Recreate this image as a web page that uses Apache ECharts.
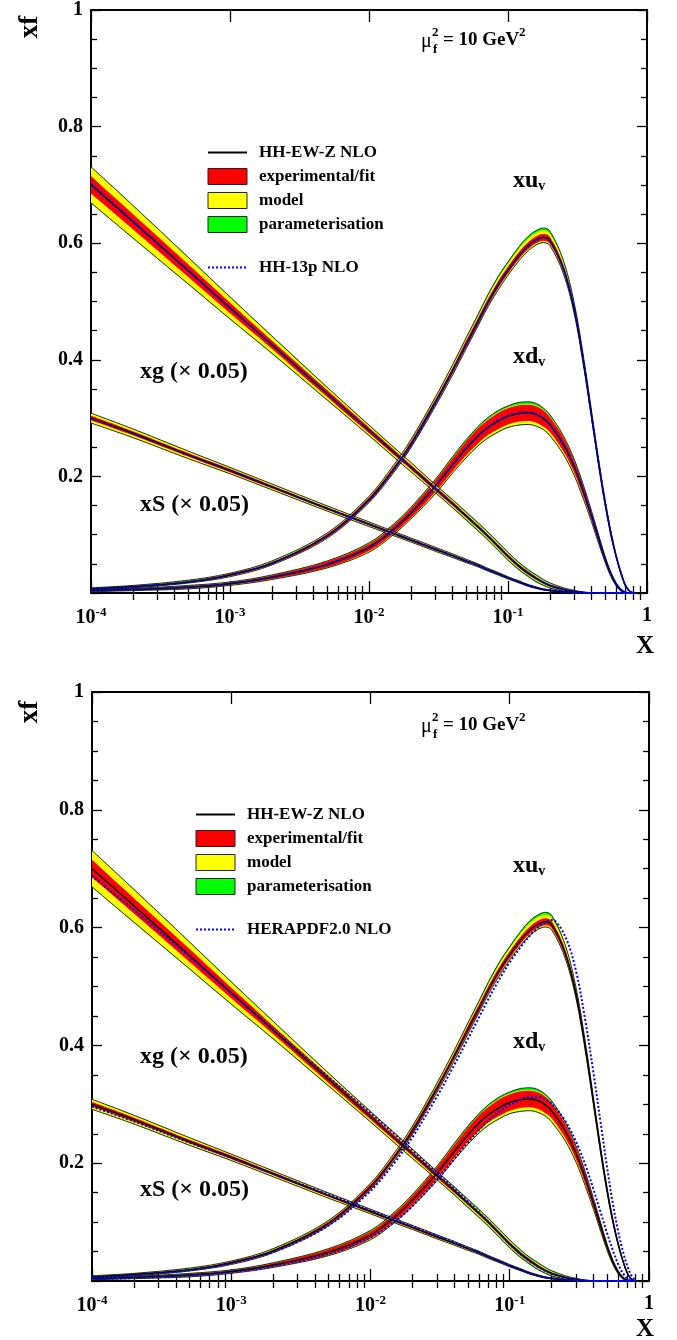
<!DOCTYPE html>
<html><head><meta charset="utf-8">
<script src="https://cdn.jsdelivr.net/npm/echarts@6/dist/echarts.min.js"></script>
<style>html,body{margin:0;padding:0;background:#fff}#c{width:677px;height:1340px}</style>
</head><body><div id="c"></div>
<script>
// ---------------- data ----------------
const xGrid = [0.0001, 0.0002, 0.0005, 0.001, 0.002, 0.005, 0.01, 0.015, 0.02, 0.03, 0.04, 0.05, 0.06, 0.07, 0.085, 0.1, 0.12, 0.14, 0.16, 0.18, 0.2, 0.25, 0.3, 0.35, 0.4, 0.45, 0.5, 0.55, 0.6, 0.65, 0.7, 0.75, 0.8];

// xu_v : HH-EW-Z NLO central value and band half-widths
const uvC   = [0.007, 0.011, 0.019, 0.031, 0.051, 0.098, 0.160, 0.212, 0.255, 0.327, 0.382, 0.427, 0.463, 0.494, 0.529, 0.554, 0.579, 0.596, 0.606, 0.610, 0.605, 0.557, 0.486, 0.395, 0.303, 0.221, 0.154, 0.102, 0.063, 0.034, 0.013, 0.003, 0.000];
const uvE   = [0.001, 0.001, 0.001, 0.002, 0.002, 0.003, 0.004, 0.004, 0.005, 0.005, 0.005, 0.006, 0.006, 0.006, 0.006, 0.006, 0.006, 0.006, 0.006, 0.006, 0.006, 0.006, 0.006, 0.005, 0.005, 0.004, 0.003, 0.003, 0.002, 0.001, 0.001, 0.000, 0.000];
const uvMdn = [0.001, 0.002, 0.002, 0.003, 0.003, 0.004, 0.005, 0.005, 0.006, 0.006, 0.007, 0.007, 0.007, 0.007, 0.008, 0.008, 0.008, 0.008, 0.008, 0.008, 0.008, 0.008, 0.007, 0.006, 0.006, 0.005, 0.004, 0.003, 0.002, 0.001, 0.001, 0.000, 0.000];
const uvMup = [0.001, 0.002, 0.002, 0.003, 0.003, 0.004, 0.005, 0.006, 0.006, 0.007, 0.008, 0.009, 0.009, 0.010, 0.011, 0.011, 0.012, 0.012, 0.012, 0.012, 0.012, 0.011, 0.009, 0.007, 0.006, 0.005, 0.004, 0.003, 0.002, 0.001, 0.001, 0.000, 0.000];
const uvPdn = [0.001, 0.002, 0.002, 0.003, 0.003, 0.004, 0.005, 0.006, 0.006, 0.007, 0.008, 0.008, 0.008, 0.008, 0.009, 0.009, 0.009, 0.009, 0.009, 0.009, 0.009, 0.009, 0.008, 0.007, 0.006, 0.005, 0.004, 0.003, 0.002, 0.001, 0.001, 0.000, 0.000];
const uvPup = [0.002, 0.002, 0.003, 0.003, 0.004, 0.005, 0.006, 0.007, 0.008, 0.009, 0.010, 0.011, 0.012, 0.013, 0.014, 0.014, 0.015, 0.016, 0.016, 0.016, 0.016, 0.014, 0.011, 0.009, 0.007, 0.006, 0.005, 0.003, 0.002, 0.001, 0.001, 0.000, 0.000];

// xd_v
const dvC   = [0.004, 0.006, 0.010, 0.016, 0.027, 0.049, 0.078, 0.109, 0.137, 0.183, 0.220, 0.248, 0.268, 0.282, 0.295, 0.303, 0.308, 0.309, 0.306, 0.299, 0.289, 0.255, 0.216, 0.173, 0.131, 0.092, 0.058, 0.032, 0.015, 0.005, 0.001, 0.000, 0.000];
const dvE   = [0.001, 0.001, 0.002, 0.002, 0.003, 0.005, 0.006, 0.007, 0.008, 0.010, 0.011, 0.012, 0.013, 0.013, 0.014, 0.014, 0.014, 0.014, 0.014, 0.014, 0.013, 0.012, 0.010, 0.009, 0.007, 0.006, 0.004, 0.003, 0.002, 0.001, 0.001, 0.000, 0.000];
const dvMdn = [0.001, 0.002, 0.002, 0.003, 0.004, 0.006, 0.008, 0.009, 0.010, 0.012, 0.014, 0.015, 0.016, 0.017, 0.018, 0.018, 0.019, 0.019, 0.019, 0.018, 0.018, 0.016, 0.014, 0.012, 0.010, 0.008, 0.006, 0.004, 0.003, 0.002, 0.001, 0.000, 0.000];
const dvMup = [0.001, 0.001, 0.002, 0.002, 0.003, 0.005, 0.006, 0.007, 0.008, 0.010, 0.011, 0.012, 0.013, 0.014, 0.015, 0.015, 0.015, 0.015, 0.015, 0.015, 0.014, 0.013, 0.011, 0.009, 0.008, 0.006, 0.005, 0.003, 0.002, 0.001, 0.001, 0.000, 0.000];
const dvPdn = [0.002, 0.002, 0.003, 0.003, 0.004, 0.006, 0.008, 0.009, 0.010, 0.013, 0.014, 0.016, 0.017, 0.018, 0.019, 0.019, 0.020, 0.020, 0.020, 0.019, 0.019, 0.017, 0.015, 0.013, 0.010, 0.008, 0.006, 0.004, 0.003, 0.002, 0.001, 0.000, 0.000];
const dvPup = [0.002, 0.002, 0.003, 0.003, 0.004, 0.006, 0.008, 0.009, 0.010, 0.012, 0.014, 0.015, 0.016, 0.017, 0.018, 0.018, 0.019, 0.019, 0.019, 0.018, 0.017, 0.015, 0.013, 0.011, 0.009, 0.007, 0.005, 0.004, 0.003, 0.002, 0.001, 0.000, 0.000];

// xg (x 0.05)
const gC = [0.700, 0.637, 0.553, 0.489, 0.426, 0.342, 0.279, 0.242, 0.216, 0.179, 0.153, 0.132, 0.115, 0.100, 0.080, 0.063, 0.046, 0.034, 0.025, 0.018, 0.013, 0.006, 0.0025, 0.0008, 0, 0, 0, 0, 0, 0, 0, 0, 0];
const gE = [0.015, 0.013, 0.011, 0.009, 0.007, 0.006, 0.005, 0.0045, 0.004, 0.004, 0.0035, 0.003, 0.003, 0.003, 0.003, 0.003, 0.003, 0.003, 0.0025, 0.002, 0.002, 0.0015, 0.001, 0.0005, 0, 0, 0, 0, 0, 0, 0, 0, 0];
const gM = [0.030, 0.027, 0.022, 0.018, 0.014, 0.010, 0.008, 0.0075, 0.007, 0.006, 0.0055, 0.005, 0.005, 0.005, 0.005, 0.005, 0.0045, 0.004, 0.004, 0.0035, 0.003, 0.002, 0.0015, 0.0007, 0, 0, 0, 0, 0, 0, 0, 0, 0];
const gP = [0.031, 0.028, 0.023, 0.019, 0.015, 0.011, 0.009, 0.0085, 0.008, 0.007, 0.007, 0.007, 0.007, 0.007, 0.007, 0.007, 0.0065, 0.006, 0.006, 0.005, 0.0045, 0.003, 0.002, 0.0008, 0, 0, 0, 0, 0, 0, 0, 0, 0];

// xS (x 0.05)
const sC = [0.300, 0.274, 0.237, 0.210, 0.182, 0.145, 0.118, 0.102, 0.091, 0.075, 0.064, 0.055, 0.048, 0.041, 0.033, 0.026, 0.019, 0.013, 0.009, 0.006, 0.0045, 0.0018, 0.0006, 0.0002, 0, 0, 0, 0, 0, 0, 0, 0, 0];
const sE = [0.004, 0.0035, 0.003, 0.003, 0.0025, 0.002, 0.002, 0.002, 0.002, 0.002, 0.0015, 0.0015, 0.0015, 0.0015, 0.0012, 0.001, 0.001, 0.001, 0.0008, 0.0007, 0.0006, 0.0004, 0.0002, 0.0001, 0, 0, 0, 0, 0, 0, 0, 0, 0];
const sM = [0.008, 0.007, 0.006, 0.005, 0.0045, 0.004, 0.0035, 0.0032, 0.003, 0.003, 0.0027, 0.0025, 0.0022, 0.002, 0.002, 0.0018, 0.0015, 0.0013, 0.0011, 0.0009, 0.0008, 0.0005, 0.0003, 0.0001, 0, 0, 0, 0, 0, 0, 0, 0, 0];
const sP = [0.0085, 0.0075, 0.0065, 0.0055, 0.005, 0.0045, 0.004, 0.0037, 0.0035, 0.0035, 0.0032, 0.003, 0.0027, 0.0025, 0.0023, 0.002, 0.0018, 0.0016, 0.0013, 0.0011, 0.0009, 0.0006, 0.0003, 0.0001, 0, 0, 0, 0, 0, 0, 0, 0, 0];

// comparison PDFs: HH-13p NLO (top panel)
const h13Uv = [0.007, 0.011, 0.019, 0.031, 0.051, 0.098, 0.159, 0.211, 0.254, 0.326, 0.381, 0.426, 0.462, 0.493, 0.528, 0.553, 0.578, 0.595, 0.605, 0.609, 0.604, 0.557, 0.487, 0.396, 0.304, 0.222, 0.155, 0.102, 0.063, 0.034, 0.013, 0.003, 0.000];
const h13Dv = [0.004, 0.006, 0.010, 0.016, 0.027, 0.049, 0.078, 0.109, 0.137, 0.183, 0.220, 0.248, 0.268, 0.282, 0.296, 0.304, 0.309, 0.310, 0.307, 0.300, 0.290, 0.256, 0.217, 0.174, 0.132, 0.092, 0.058, 0.032, 0.015, 0.005, 0.001, 0.000, 0.000];
const h13G  = [0.702, 0.638, 0.553, 0.489, 0.426, 0.342, 0.279, 0.242, 0.216, 0.179, 0.153, 0.132, 0.115, 0.100, 0.080, 0.063, 0.046, 0.034, 0.025, 0.018, 0.013, 0.006, 0.0025, 0.0008, 0, 0, 0, 0, 0, 0, 0, 0, 0];
const h13S  = [0.300, 0.274, 0.237, 0.210, 0.182, 0.145, 0.118, 0.102, 0.091, 0.075, 0.064, 0.055, 0.048, 0.041, 0.033, 0.026, 0.019, 0.013, 0.009, 0.006, 0.0045, 0.0018, 0.0006, 0.0002, 0, 0, 0, 0, 0, 0, 0, 0, 0];

// comparison PDFs: HERAPDF2.0 NLO (bottom panel)
const hpUv = [0.006, 0.010, 0.018, 0.030, 0.049, 0.094, 0.153, 0.202, 0.244, 0.313, 0.367, 0.411, 0.447, 0.478, 0.514, 0.541, 0.567, 0.587, 0.600, 0.609, 0.613, 0.585, 0.525, 0.440, 0.352, 0.268, 0.193, 0.131, 0.085, 0.050, 0.025, 0.009, 0.001];
const hpDv = [0.003, 0.005, 0.009, 0.015, 0.025, 0.046, 0.074, 0.101, 0.127, 0.172, 0.207, 0.235, 0.256, 0.272, 0.288, 0.299, 0.308, 0.312, 0.312, 0.308, 0.301, 0.272, 0.236, 0.196, 0.155, 0.116, 0.081, 0.052, 0.029, 0.013, 0.004, 0.001, 0.000];
const hpG  = [0.688, 0.630, 0.551, 0.489, 0.428, 0.346, 0.285, 0.249, 0.222, 0.184, 0.157, 0.135, 0.117, 0.101, 0.080, 0.062, 0.045, 0.033, 0.024, 0.017, 0.012, 0.005, 0.002, 0.0005, 0, 0, 0, 0, 0, 0, 0, 0, 0];
const hpS  = [0.296, 0.271, 0.235, 0.209, 0.182, 0.147, 0.120, 0.104, 0.093, 0.077, 0.066, 0.056, 0.049, 0.042, 0.033, 0.026, 0.019, 0.013, 0.009, 0.006, 0.0045, 0.0018, 0.0006, 0.0002, 0, 0, 0, 0, 0, 0, 0, 0, 0];

// tick labels / names
const xDecades = [0.0001, 0.001, 0.01, 0.1, 1];
const bandNames = ['parameterisation', 'model', 'experimental/fit'];
const bandColors = ['#00ff00', '#ffff00', '#ff0000'];
const mainName = 'HH-EW-Z NLO';
const cmpNames = ['HH-13p NLO', 'HERAPDF2.0 NLO'];

// ---------------- helpers ----------------
const FONT = '"Liberation Serif", "Times New Roman", serif';
const SMOOTH = 0.35;
const minorX = [];
for (let e = -4; e < 0; e++) for (let m = 2; m <= 9; m++) minorX.push(m * Math.pow(10, e));

function smoothPts(p, s) {
  const n = p.length, out = [p[0].slice()], N = 10;
  let cp0 = p[0];
  for (let i = 1; i < n; i++) {
    const prev = p[i - 1], cur = p[i], next = i < n - 1 ? p[i + 1] : null;
    let cp1 = cur, nextCp0 = cur;
    const l0 = Math.hypot(cur[0] - prev[0], cur[1] - prev[1]);
    const l1 = next ? Math.hypot(next[0] - cur[0], next[1] - cur[1]) : 0;
    if (next && l0 > 1e-6 && l1 > 1e-6) {
      let vx = next[0] - prev[0], vy = next[1] - prev[1];
      const r = l1 / (l0 + l1);
      let nx = cur[0] + vx * s * r, ny = cur[1] + vy * s * r;
      nx = Math.min(nx, Math.max(next[0], cur[0])); ny = Math.min(ny, Math.max(next[1], cur[1]));
      nx = Math.max(nx, Math.min(next[0], cur[0])); ny = Math.max(ny, Math.min(next[1], cur[1]));
      vx = nx - cur[0]; vy = ny - cur[1];
      let cx = cur[0] - vx * l0 / l1, cy = cur[1] - vy * l0 / l1;
      cx = Math.min(cx, Math.max(prev[0], cur[0])); cy = Math.min(cy, Math.max(prev[1], cur[1]));
      cx = Math.max(cx, Math.min(prev[0], cur[0])); cy = Math.max(cy, Math.min(prev[1], cur[1]));
      vx = cur[0] - cx; vy = cur[1] - cy;
      cp1 = [cx, cy]; nextCp0 = [cur[0] + vx * l1 / l0, cur[1] + vy * l1 / l0];
    }
    for (let t = 1; t <= N; t++) {
      const u = t / N, a = (1 - u) * (1 - u) * (1 - u), b = 3 * (1 - u) * (1 - u) * u, c = 3 * (1 - u) * u * u, d = u * u * u;
      out.push([a * prev[0] + b * cp0[0] + c * cp1[0] + d * cur[0], a * prev[1] + b * cp0[1] + c * cp1[1] + d * cur[1]]);
    }
    cp0 = nextCp0;
  }
  return out;
}

function bandSeries(gi, name, color, lo, hi) {
  return {
    type: 'custom', name, xAxisIndex: gi * 4, yAxisIndex: gi * 2, clip: true, silent: true,
    itemStyle: { color, borderColor: '#222', borderWidth: 1 },
    data: xGrid.map((x, i) => [x, lo[i], hi[i]]),
    encode: { x: 0, y: [1, 2] },
    renderItem(params, api) {
      if (params.dataIndex !== 0) return null;
      const up = smoothPts(xGrid.map((x, i) => api.coord([x, hi[i]])), SMOOTH);
      const dn = smoothPts(xGrid.map((x, i) => api.coord([x, lo[i]])), SMOOTH);
      return { type: 'polygon', shape: { points: up.concat(dn.reverse()) }, style: { fill: color, stroke: null } };
    }
  };
}
function lineSeries(gi, name, vals, color, width, type, z) {
  return {
    type: 'line', name, xAxisIndex: gi * 4, yAxisIndex: gi * 2, silent: true, smooth: SMOOTH,
    symbol: 'none', showSymbol: false, z: z || 2,
    data: xGrid.map((x, i) => [x, vals[i]]),
    lineStyle: { color, width, type: type || 'solid' }
  };
}

const pdfs = [
  { C: uvC, E: uvE, Mdn: uvMdn, Mup: uvMup, Pdn: uvPdn, Pup: uvPup, cmp: [h13Uv, hpUv] },
  { C: dvC, E: dvE, Mdn: dvMdn, Mup: dvMup, Pdn: dvPdn, Pup: dvPup, cmp: [h13Dv, hpDv] },
  { C: gC, E: gE, Mdn: gM, Mup: gM, Pdn: gP, Pup: gP, cmp: [h13G, hpG] },
  { C: sC, E: sE, Mdn: sM, Mup: sM, Pdn: sP, Pup: sP, cmp: [h13S, hpS] }
];

const grids = [
  { left: 91, top: 7, width: 556, height: 586 },
  { left: 92, top: 692, width: 557, height: 589 }
];

const xAxes = [], yAxes = [], series = [];
const tickLine = { color: '#000', width: 1.3 };
const axLine = { show: true, onZero: false, lineStyle: { color: '#000', width: 2 } };
grids.forEach((g, gi) => {
  const base = { type: 'log', logBase: 10, gridIndex: gi, min: 0.0001, max: 1, splitLine: { show: false }, minorTick: { show: false } };
  xAxes.push(Object.assign({}, base, {
    position: 'bottom', axisLine: axLine,
    axisTick: { show: true, inside: true, length: 12, customValues: xDecades, lineStyle: tickLine },
    axisLabel: {
      show: true, customValues: xDecades, margin: 13,
      formatter: v => { const e = Math.round(Math.log10(v)); return e === 0 ? '{b|1}' : '{b|10}{s|' + e + '}'; },
      rich: {
        b: { fontFamily: FONT, fontWeight: 'bold', fontSize: 20, color: '#000' },
        s: { fontFamily: FONT, fontWeight: 'bold', fontSize: 13, color: '#000', padding: [0, 0, 10, 0] }
      }
    }
  }));
  xAxes.push(Object.assign({}, base, {
    position: 'bottom', axisLine: { show: false },
    axisTick: { show: true, inside: true, length: 7, customValues: minorX, lineStyle: tickLine },
    axisLabel: { show: false }
  }));
  xAxes.push(Object.assign({}, base, {
    position: 'top', axisLine: axLine,
    axisTick: { show: true, inside: true, length: 12, customValues: xDecades, lineStyle: tickLine },
    axisLabel: { show: false }
  }));
  xAxes.push(Object.assign({}, base, {
    position: 'top', axisLine: { show: false },
    axisTick: { show: true, inside: true, length: 7, customValues: minorX, lineStyle: tickLine },
    axisLabel: { show: false }
  }));
  const ybase = {
    type: 'value', gridIndex: gi, min: 0, max: 1, interval: 0.2, splitLine: { show: false },
    axisLine: axLine, axisTick: { show: true, inside: true, length: 10, lineStyle: tickLine },
    minorTick: { show: true, splitNumber: 4, length: 6, lineStyle: tickLine }
  };
  yAxes.push(Object.assign({}, ybase, {
    position: 'left',
    axisLabel: {
      show: true, margin: 8, fontFamily: FONT, fontWeight: 'bold', fontSize: 20, color: '#000',
      formatter: v => v === 0 ? '' : (v === 1 ? '1' : v.toFixed(1))
    }
  }));
  yAxes.push(Object.assign({}, ybase, { position: 'right', axisLabel: { show: false } }));
});

grids.forEach((g, gi) => {
  pdfs.forEach(p => {
    const lims = [
      [p.C.map((c, i) => c - p.Pdn[i]), p.C.map((c, i) => c + p.Pup[i])],
      [p.C.map((c, i) => c - p.Mdn[i]), p.C.map((c, i) => c + p.Mup[i])],
      [p.C.map((c, i) => c - p.E[i]), p.C.map((c, i) => c + p.E[i])]
    ];
    lims.forEach((l, k) => series.push(bandSeries(gi, bandNames[k], bandColors[k], l[0], l[1])));
  });
  pdfs.forEach(p => {
    series.push(lineSeries(gi, 'outline', p.C.map((c, i) => c - p.Pdn[i]), '#000', 0.8, 'solid', 3));
    series.push(lineSeries(gi, 'outline', p.C.map((c, i) => c + p.Pup[i]), '#000', 0.8, 'solid', 3));
  });
  pdfs.forEach(p => series.push(lineSeries(gi, mainName, p.C, '#000', 1.5, 'solid', 4)));
  pdfs.forEach(p => series.push(lineSeries(gi, cmpNames[gi], p.cmp[gi], '#0000ff', 2, [2, 2], 5)));
});

function legendPair(left, top, cmpName) {
  const common = {
    orient: 'vertical', left, itemWidth: 39, itemHeight: 16, itemGap: 7, padding: 0,
    selectedMode: false, inactiveColor: '#000',
    textStyle: { fontFamily: FONT, fontWeight: 'bold', fontSize: 17, lineHeight: 16, color: '#000', padding: [0, 0, 0, 7] }
  };
  return [
    Object.assign({}, common, {
      top,
      data: [
        { name: mainName, itemStyle: { opacity: 0 } },
        { name: bandNames[2], icon: 'rect', itemStyle: { borderColor: '#222', borderWidth: 1 } },
        { name: bandNames[1], icon: 'rect', itemStyle: { borderColor: '#222', borderWidth: 1 } },
        { name: bandNames[0], icon: 'rect', itemStyle: { borderColor: '#222', borderWidth: 1 } }
      ]
    }),
    Object.assign({}, common, { top: top + 115, data: [{ name: cmpName, itemStyle: { opacity: 0 } }] })
  ];
}

function T(x, y, text, size, extra) {
  return { type: 'text', x, y, silent: true, style: Object.assign({ text, fontFamily: FONT, fontWeight: 'bold', fontSize: size, fill: '#000', align: 'left', verticalAlign: 'middle' }, extra || {}) };
}
function richLabel(x, y, main, sub) {
  return T(x, y, '{a|' + main + '}{b|' + sub + '}', 24, {
    rich: {
      a: { fontFamily: FONT, fontWeight: 'bold', fontSize: 24, fill: '#000' },
      b: { fontFamily: FONT, fontWeight: 'bold', fontSize: 14, fill: '#000', padding: [10, 0, 0, 0] }
    }
  });
}
const graphics = [];
[0, 685].forEach(dy => {
  const xf = T(30, 27 + dy, 'xf', 27, { align: 'center' });
  xf.rotation = Math.PI / 2;
  graphics.push(xf);
  graphics.push(T(645, 647 + dy * 0.997, 'X', 25, { align: 'center' }));
  graphics.push(T(421, 42 + dy, 'μ', 20, { fontWeight: 'normal' }));
  graphics.push(T(432, 33 + dy, '2', 13));
  graphics.push(T(433, 50 + dy, 'f', 13));
  graphics.push(T(443, 40 + dy, '= 10 GeV', 19));
  graphics.push(T(519, 33 + dy, '2', 13));
  graphics.push(richLabel(513, 181 + dy, 'xu', 'v'));
  graphics.push(richLabel(513, 357 + dy, 'xd', 'v'));
  graphics.push(T(140, 372 + dy, 'xg (× 0.05)', 24));
  graphics.push(T(140, 505 + dy, 'xS (× 0.05)', 24));
});

const option = {
  animation: false,
  backgroundColor: '#fff',
  grid: grids,
  xAxis: xAxes,
  yAxis: yAxes,
  legend: legendPair(207, 144, cmpNames[0]).concat(legendPair(195, 806, cmpNames[1])),
  series,
  graphic: graphics
};
const chart = echarts.init(document.getElementById('c'), null, { renderer: 'canvas' });
chart.setOption(option);
</script></body></html>
